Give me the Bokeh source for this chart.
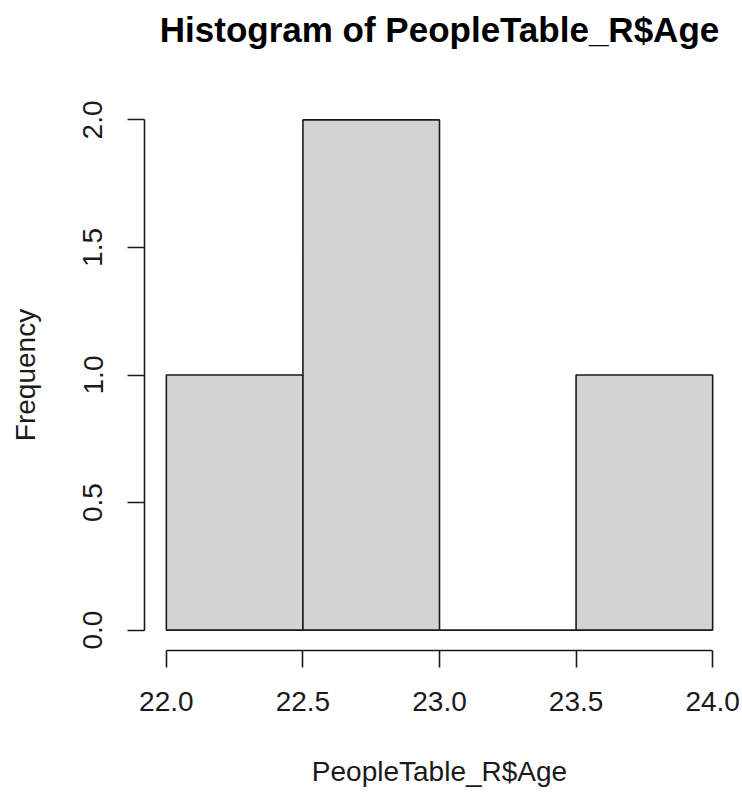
from bokeh.plotting import figure
from bokeh.models import Range1d, FixedTicker, NumeralTickFormatter, Title
from bokeh.embed import file_html
from bokeh.resources import INLINE

# Histogram of ages: bin edges and counts per bin
bin_edges = [22.0, 22.5, 23.0, 23.5, 24.0]
counts = [1, 2, 0, 1]
x_ticks = [22.0, 22.5, 23.0, 23.5, 24.0]
y_ticks = [0.0, 0.5, 1.0, 1.5, 2.0]

title_text = "Histogram of PeopleTable_R$Age"
x_label = "PeopleTable_R$Age"
y_label = "Frequency"

FONT = "Liberation Sans"

p = figure(
    width=742, height=792,
    output_backend="svg", toolbar_location=None,
    x_range=Range1d(21.92, 24.08), y_range=Range1d(-0.08, 2.08),
    min_border_left=144, min_border_right=8,
    min_border_top=99, min_border_bottom=142,
    title=None,
)
p.outline_line_color = None
p.grid.visible = False
p.background_fill_color = "white"
p.border_fill_color = "white"

p.quad(left=bin_edges[:-1], right=bin_edges[1:], bottom=0, top=counts,
       fill_color="#D3D3D3", line_color="#1a1a1a", line_width=1.6)

# blank band between the plotting region and the main title
gap = Title(text=" ", text_font=FONT, text_font_size="10px", standoff=36)
p.add_layout(gap, "above")

title = Title(text=title_text, align="center", vertical_align="top",
              text_font=FONT, text_font_size="35px", text_font_style="bold",
              text_color="black", standoff=0)
p.add_layout(title, "above")

for ax in (p.xaxis[0], p.yaxis[0]):
    ax.axis_line_color = "#1a1a1a"
    ax.axis_line_width = 1.6
    ax.major_tick_line_color = "#1a1a1a"
    ax.major_tick_line_width = 1.6
    ax.major_tick_out = 17
    ax.major_tick_in = 0
    ax.minor_tick_line_color = None
    ax.major_label_text_font = FONT
    ax.major_label_text_font_size = "28px"
    ax.major_label_text_color = "#1a1a1a"
    ax.axis_label_text_font = FONT
    ax.axis_label_text_font_size = "28px"
    ax.axis_label_text_font_style = "normal"
    ax.axis_label_text_color = "#1a1a1a"
    ax.formatter = NumeralTickFormatter(format="0.0")

p.xaxis[0].ticker = FixedTicker(ticks=x_ticks)
p.xaxis[0].bounds = (x_ticks[0], x_ticks[-1])
p.xaxis[0].axis_label = x_label
p.xaxis[0].major_label_standoff = 24
p.xaxis[0].axis_label_standoff = 42

p.yaxis[0].ticker = FixedTicker(ticks=y_ticks)
p.yaxis[0].bounds = (y_ticks[0], y_ticks[-1])
p.yaxis[0].axis_label = y_label
p.yaxis[0].major_label_orientation = "vertical"
p.yaxis[0].major_label_standoff = 25
p.yaxis[0].axis_label_standoff = 40

open("out.html", "w").write(file_html(p, INLINE))
